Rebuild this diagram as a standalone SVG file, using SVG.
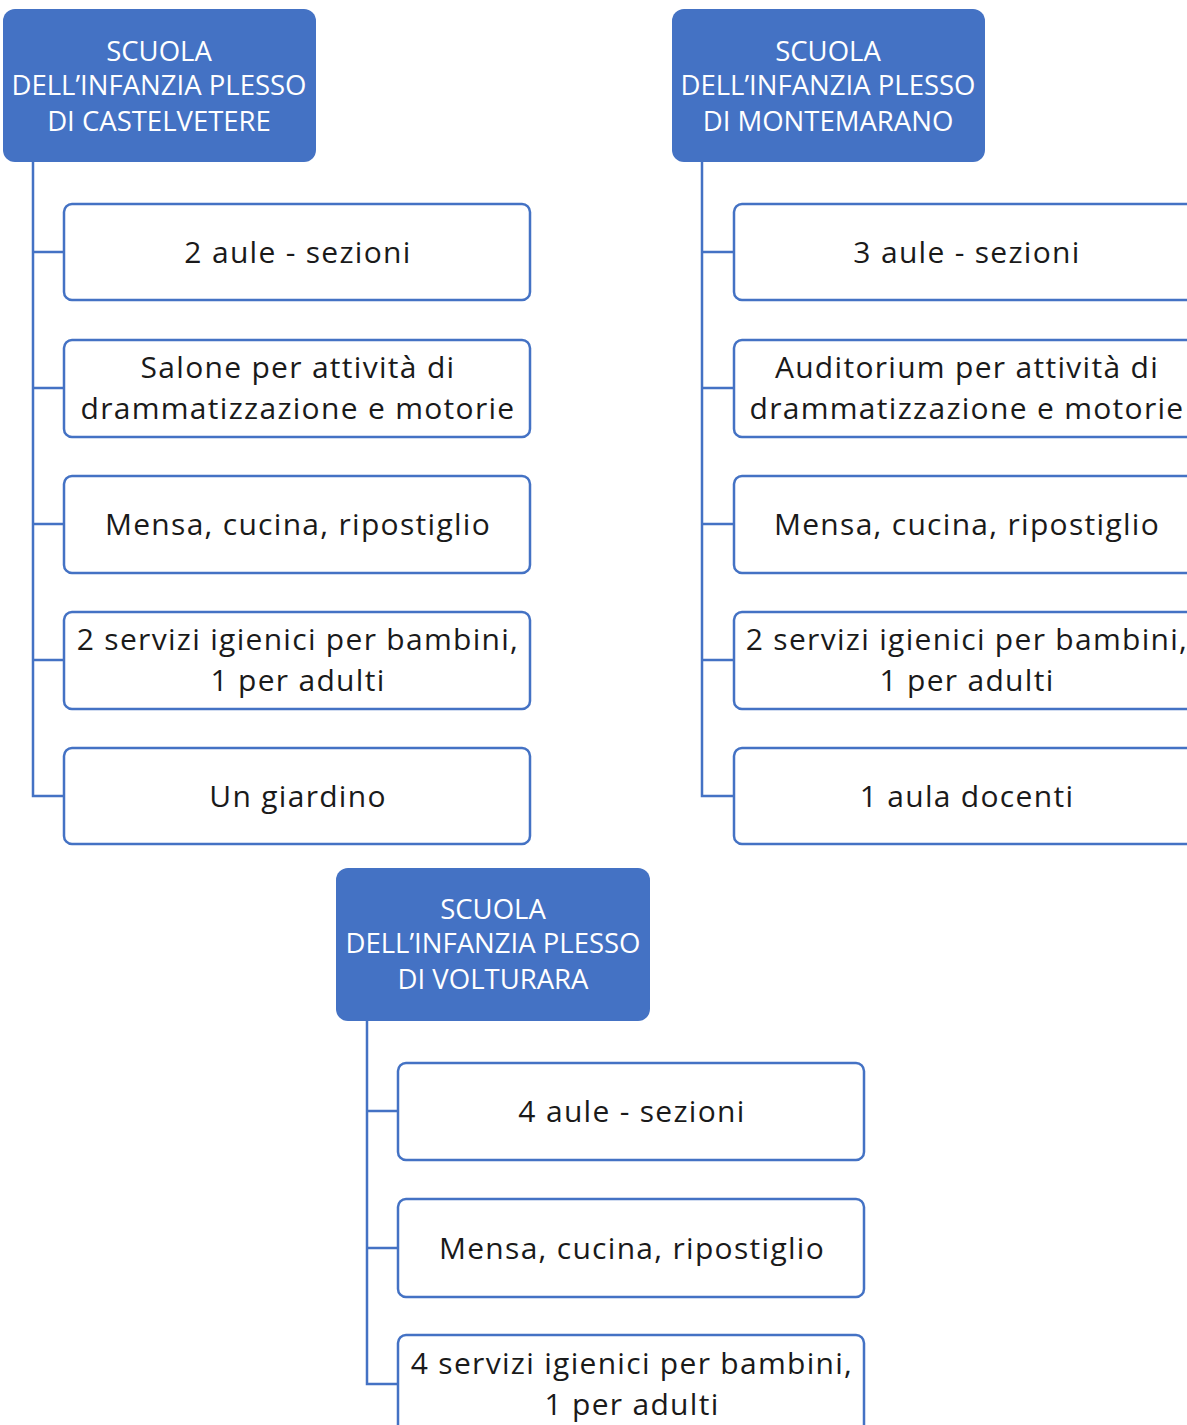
<svg xmlns="http://www.w3.org/2000/svg" width="1187" height="1425" viewBox="0 0 1187 1425">
<style>
.hd{fill:#4472C4;}
.bx{fill:#fff;stroke:#4472C4;stroke-width:2.5;}
.ht{fill:#fff;font-family:"Open Sans","Liberation Sans",sans-serif;font-size:27.5px;text-anchor:middle;}
.bt{fill:#1a1a1a;font-family:"Open Sans","Liberation Sans",sans-serif;font-size:30px;letter-spacing:1.3px;text-anchor:middle;}
.cn{fill:none;stroke:#4472C4;stroke-width:2.5;}
</style>
<rect width="1187" height="1425" fill="#fff"/>
<g id="connectors">
<path class="cn" d="M33 162V796H64M33 252H64M33 388H64M33 524H64M33 660H64"/>
<path class="cn" d="M702 162V796H734M702 252H734M702 388H734M702 524H734M702 660H734"/>
<path class="cn" d="M367 1021V1384H398M367 1111H398M367 1248H398"/>
</g>
<g id="h1"><rect class="hd" x="3" y="9" width="313" height="153" rx="12"/>
<text class="ht" x="159" y="61">SCUOLA</text><text class="ht" x="159" y="95">DELL’INFANZIA PLESSO</text><text class="ht" x="159" y="131">DI CASTELVETERE</text></g>
<g id="c1"><rect class="bx" x="64" y="204" width="466" height="96" rx="8"/><text class="bt" x="298" y="263">2 aule - sezioni</text></g>
<g id="c2"><rect class="bx" x="64" y="340" width="466" height="97" rx="8"/><text class="bt" x="298" y="378">Salone per attività di</text><text class="bt" x="298" y="419">drammatizzazione e motorie</text></g>
<g id="c3"><rect class="bx" x="64" y="476" width="466" height="97" rx="8"/><text class="bt" x="298" y="535">Mensa, cucina, ripostiglio</text></g>
<g id="c4"><rect class="bx" x="64" y="612" width="466" height="97" rx="8"/><text class="bt" x="298" y="650">2 servizi igienici per bambini,</text><text class="bt" x="298" y="691">1 per adulti</text></g>
<g id="c5"><rect class="bx" x="64" y="748" width="466" height="96" rx="8"/><text class="bt" x="298" y="807">Un giardino</text></g>
<g id="h2"><rect class="hd" x="672" y="9" width="313" height="153" rx="12"/>
<text class="ht" x="828" y="61">SCUOLA</text><text class="ht" x="828" y="95">DELL’INFANZIA PLESSO</text><text class="ht" x="828" y="131">DI MONTEMARANO</text></g>
<g id="m1"><rect class="bx" x="734" y="204" width="466" height="96" rx="8"/><text class="bt" x="967" y="263">3 aule - sezioni</text></g>
<g id="m2"><rect class="bx" x="734" y="340" width="466" height="97" rx="8"/><text class="bt" x="967" y="378">Auditorium per attività di</text><text class="bt" x="967" y="419">drammatizzazione e motorie</text></g>
<g id="m3"><rect class="bx" x="734" y="476" width="466" height="97" rx="8"/><text class="bt" x="967" y="535">Mensa, cucina, ripostiglio</text></g>
<g id="m4"><rect class="bx" x="734" y="612" width="466" height="97" rx="8"/><text class="bt" x="967" y="650">2 servizi igienici per bambini,</text><text class="bt" x="967" y="691">1 per adulti</text></g>
<g id="m5"><rect class="bx" x="734" y="748" width="466" height="96" rx="8"/><text class="bt" x="967" y="807">1 aula docenti</text></g>
<g id="h3"><rect class="hd" x="336" y="868" width="314" height="153" rx="12"/>
<text class="ht" x="493" y="919">SCUOLA</text><text class="ht" x="493" y="953">DELL’INFANZIA PLESSO</text><text class="ht" x="493" y="989">DI VOLTURARA</text></g>
<g id="v1"><rect class="bx" x="398" y="1063" width="466" height="97" rx="8"/><text class="bt" x="632" y="1122">4 aule - sezioni</text></g>
<g id="v2"><rect class="bx" x="398" y="1199" width="466" height="98" rx="8"/><text class="bt" x="632" y="1259">Mensa, cucina, ripostiglio</text></g>
<g id="v3"><rect class="bx" x="398" y="1335" width="466" height="100" rx="8"/><text class="bt" x="632" y="1374">4 servizi igienici per bambini,</text><text class="bt" x="632" y="1415">1 per adulti</text></g>
</svg>
